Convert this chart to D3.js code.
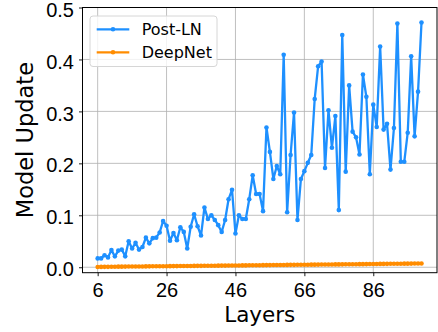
<!DOCTYPE html>
<html>
<head>
<meta charset="utf-8">
<script src="https://cdn.jsdelivr.net/npm/d3@7"></script>
<style>
  html, body { margin: 0; padding: 0; background: #fff; }
  svg { display: block; font-family: "DejaVu Sans", sans-serif; }
  .grid line { stroke: #b0b0b0; stroke-width: 0.8; }
  .tick-label { font-size: 20px; fill: #000; }
  .axis-title { font-size: 21.5px; fill: #000; }
  .legend-text { font-size: 16px; fill: #000; }
</style>
</head>
<body>
<div id="chart"></div>
<script>
const layers = d3.range(6, 101);

const postLN = [
  0.017, 0.017, 0.023, 0.019, 0.033, 0.021, 0.032, 0.034, 0.021, 0.050,
  0.036, 0.047, 0.034, 0.039, 0.057, 0.046, 0.056, 0.057, 0.067, 0.089,
  0.080, 0.051, 0.066, 0.052, 0.077, 0.068, 0.036, 0.078, 0.102, 0.079,
  0.061, 0.115, 0.093, 0.100, 0.091, 0.081, 0.068, 0.091, 0.131, 0.149,
  0.065, 0.100, 0.093, 0.093, 0.131, 0.177, 0.141, 0.141, 0.108, 0.269,
  0.222, 0.170, 0.195, 0.179, 0.409, 0.106, 0.216, 0.298, 0.091, 0.170,
  0.185, 0.201, 0.216, 0.324, 0.387, 0.396, 0.191, 0.302, 0.230, 0.291,
  0.110, 0.447, 0.184, 0.350, 0.261, 0.250, 0.217, 0.371, 0.328, 0.179,
  0.313, 0.270, 0.425, 0.265, 0.276, 0.188, 0.268, 0.469, 0.203, 0.203,
  0.259, 0.406, 0.252, 0.338, 0.471
];

const deepNet = [
  0.0006, 0.0007, 0.0008, 0.0008, 0.0009, 0.0010, 0.0011, 0.0011, 0.0012, 0.0013,
  0.0013, 0.0014, 0.0015, 0.0015, 0.0016, 0.0017, 0.0018, 0.0018, 0.0019, 0.0020,
  0.0020, 0.0021, 0.0022, 0.0022, 0.0023, 0.0024, 0.0025, 0.0025, 0.0026, 0.0027,
  0.0027, 0.0028, 0.0029, 0.0029, 0.0030, 0.0031, 0.0032, 0.0032, 0.0033, 0.0034,
  0.0034, 0.0035, 0.0036, 0.0036, 0.0037, 0.0038, 0.0039, 0.0039, 0.0040, 0.0041,
  0.0041, 0.0042, 0.0043, 0.0043, 0.0044, 0.0045, 0.0046, 0.0046, 0.0047, 0.0048,
  0.0048, 0.0049, 0.0050, 0.0050, 0.0051, 0.0052, 0.0053, 0.0053, 0.0054, 0.0055,
  0.0055, 0.0056, 0.0057, 0.0057, 0.0058, 0.0059, 0.0060, 0.0060, 0.0061, 0.0062,
  0.0062, 0.0063, 0.0064, 0.0064, 0.0065, 0.0066, 0.0067, 0.0067, 0.0068, 0.0069,
  0.0069, 0.0070, 0.0071, 0.0071, 0.0072
];

const xTicks = [6, 26, 46, 66, 86];
const yTicks = [0, 0.1, 0.2, 0.3, 0.4, 0.5];

const series = [
  { name: 'Post-LN', color: '#1e90ff', values: postLN },
  { name: 'DeepNet', color: '#ff8c00', values: deepNet }
];

const width = 438;
const height = 332;
const plot = { left: 82.5, right: 437, top: 7.5, bottom: 272.7 };

const x = d3.scaleLinear().domain([1.6, 104.5]).range([plot.left, plot.right]);
const y = d3.scaleLinear().domain([-0.0105, 0.5]).range([plot.bottom, plot.top]);

const svg = d3.select('#chart')
  .append('svg')
  .attr('width', width)
  .attr('height', height);

svg.append('defs')
  .append('clipPath')
  .attr('id', 'plot-clip')
  .append('rect')
  .attr('x', plot.left)
  .attr('y', plot.top)
  .attr('width', plot.right - plot.left)
  .attr('height', plot.bottom - plot.top);

// grid
const grid = svg.append('g').attr('class', 'grid');
grid.selectAll('.gx')
  .data(xTicks)
  .join('line')
  .attr('x1', d => x(d)).attr('x2', d => x(d))
  .attr('y1', plot.top).attr('y2', plot.bottom);
grid.selectAll('.gy')
  .data(yTicks)
  .join('line')
  .attr('class', 'gy')
  .attr('x1', plot.left).attr('x2', plot.right)
  .attr('y1', d => y(d)).attr('y2', d => y(d));

// series
const line = d3.line()
  .x((d, i) => x(layers[i]))
  .y(d => y(d));

const marks = svg.append('g').attr('clip-path', 'url(#plot-clip)');

series.forEach(s => {
  const g = marks.append('g');
  g.append('path')
    .datum(s.values)
    .attr('fill', 'none')
    .attr('stroke', s.color)
    .attr('stroke-width', 2.3)
    .attr('stroke-linejoin', 'round')
    .attr('d', line);
  g.selectAll('circle')
    .data(s.values)
    .join('circle')
    .attr('cx', (d, i) => x(layers[i]))
    .attr('cy', d => y(d))
    .attr('r', 2.3)
    .attr('fill', s.color);
});

// axes
const xAxis = d3.axisBottom(x)
  .tickValues(xTicks)
  .tickSize(3.5)
  .tickPadding(4)
  .tickFormat(d3.format('d'));
const yAxis = d3.axisLeft(y)
  .tickValues(yTicks)
  .tickSize(3.5)
  .tickPadding(5)
  .tickFormat(d3.format('.1f'));

const gx = svg.append('g')
  .attr('transform', `translate(0,${plot.bottom})`)
  .call(xAxis);
const gy = svg.append('g')
  .attr('transform', `translate(${plot.left},0)`)
  .call(yAxis);

[gx, gy].forEach(g => {
  g.select('.domain').remove();
  g.selectAll('.tick line').attr('stroke', '#000').attr('stroke-width', 0.9);
  g.selectAll('.tick text')
    .attr('class', 'tick-label')
    .attr('font-family', null)
    .attr('font-size', null);
});
gx.selectAll('.tick text').attr('dy', '0.85em');
gy.selectAll('.tick text').attr('dy', '0.43em');

// frame
svg.append('rect')
  .attr('x', plot.left)
  .attr('y', plot.top)
  .attr('width', plot.right - plot.left)
  .attr('height', plot.bottom - plot.top)
  .attr('fill', 'none')
  .attr('stroke', '#000')
  .attr('stroke-width', 1);

// titles
svg.append('text')
  .attr('class', 'axis-title')
  .attr('text-anchor', 'middle')
  .attr('x', (plot.left + plot.right) / 2)
  .attr('y', 322)
  .text('Layers');

svg.append('text')
  .attr('class', 'axis-title')
  .attr('text-anchor', 'middle')
  .style('font-size', '22.5px')
  .attr('transform', `translate(33,${(plot.top + plot.bottom) / 2}) rotate(-90)`)
  .text('Model Update');

// legend
const legend = svg.append('g').attr('transform', 'translate(90,16)');
legend.append('rect')
  .attr('width', 127)
  .attr('height', 50.5)
  .attr('rx', 3)
  .attr('fill', '#fff')
  .attr('fill-opacity', 0.8)
  .attr('stroke', '#d6d6d6')
  .attr('stroke-width', 1);

const items = legend.selectAll('.item')
  .data(series)
  .join('g')
  .attr('class', 'item')
  .attr('transform', (d, i) => `translate(0,${13.3 + i * 23})`);

items.append('line')
  .attr('x1', 6.7).attr('x2', 39.3)
  .attr('stroke', d => d.color)
  .attr('stroke-width', 2.3);
items.append('circle')
  .attr('cx', 23)
  .attr('r', 2.3)
  .attr('fill', d => d.color);
items.append('text')
  .attr('class', 'legend-text')
  .attr('x', 51.7)
  .attr('dy', '0.36em')
  .text(d => d.name);
</script>
</body>
</html>
